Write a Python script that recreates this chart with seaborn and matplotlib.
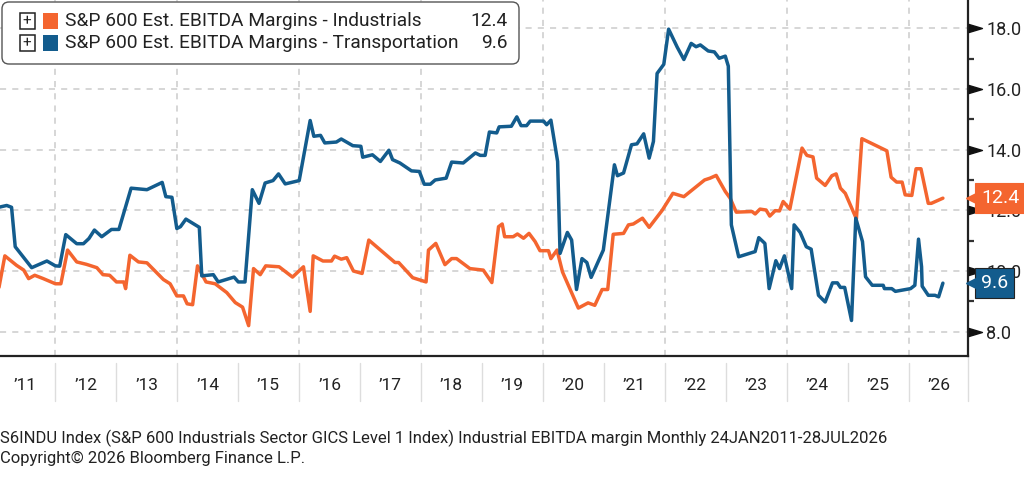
import pandas as pd
import numpy as np
import seaborn as sns
import matplotlib.pyplot as plt
import matplotlib.dates as mdates
import matplotlib.transforms as mtransforms
from matplotlib.patches import FancyBboxPatch, Rectangle

# Series (decimal year, margin %)
ind_t = [2011.07, 2011.17, 2011.36, 2011.48, 2011.56, 2011.66, 2011.80, 2012.00, 2012.09, 2012.20,
         2012.35, 2012.51, 2012.68, 2012.78, 2012.89, 2013.00, 2013.12, 2013.15, 2013.22, 2013.36,
         2013.50, 2013.77, 2013.88, 2013.99, 2014.10, 2014.16, 2014.25, 2014.33, 2014.47, 2014.62,
         2014.81, 2014.95, 2015.07, 2015.17, 2015.25, 2015.36, 2015.45, 2015.67, 2015.89, 2016.07,
         2016.18, 2016.23, 2016.39, 2016.53, 2016.58, 2016.69, 2016.78, 2016.89, 2017.03, 2017.14,
         2017.57, 2017.63, 2017.86, 2018.08, 2018.12, 2018.24, 2018.39, 2018.50, 2018.58, 2018.80,
         2019.02, 2019.16, 2019.27, 2019.33, 2019.37, 2019.51, 2019.58, 2019.68, 2019.77, 2019.87,
         2019.95, 2020.09, 2020.13, 2020.23, 2020.32, 2020.58, 2020.74, 2020.85, 2020.97, 2021.06,
         2021.15, 2021.32, 2021.40, 2021.48, 2021.63, 2021.74, 2021.95, 2022.13, 2022.31, 2022.65,
         2022.74, 2022.84, 2022.99, 2023.07, 2023.17, 2023.43, 2023.48, 2023.56, 2023.66, 2023.72,
         2023.81, 2023.88, 2023.94, 2024.05, 2024.25, 2024.33, 2024.43, 2024.49, 2024.63, 2024.74,
         2024.81, 2024.88, 2024.96, 2025.14, 2025.23, 2025.64, 2025.71, 2025.80, 2025.89, 2025.94,
         2026.05, 2026.12, 2026.20, 2026.32, 2026.37, 2026.56]
ind_v = [9.42, 10.50, 10.19, 10.03, 9.75, 9.86, 9.75, 9.58, 9.58, 10.69,
         10.30, 10.22, 10.11, 9.88, 9.86, 9.64, 9.64, 9.42, 10.52, 10.30,
         10.27, 9.72, 9.58, 9.18, 9.18, 8.92, 8.89, 10.17, 9.64, 9.58,
         9.29, 8.96, 8.81, 8.20, 10.08, 9.88, 10.17, 10.14, 9.80, 10.14,
         8.67, 10.50, 10.33, 10.33, 10.49, 10.39, 10.44, 10.00, 9.92, 11.02,
         10.28, 10.28, 9.78, 9.64, 10.69, 10.91, 10.21, 10.41, 10.41, 10.08,
         10.03, 9.62, 11.46, 11.55, 11.13, 11.13, 11.22, 11.08, 11.24, 10.97,
         10.67, 10.67, 10.41, 10.69, 9.97, 8.78, 8.95, 8.87, 9.39, 9.39,
         11.21, 11.24, 11.52, 11.55, 11.74, 11.44, 11.99, 12.56, 12.45, 13.00,
         13.06, 13.15, 12.62, 12.40, 11.94, 11.96, 11.88, 12.04, 12.01, 11.81,
         11.99, 11.98, 12.29, 12.04, 14.05, 13.81, 13.76, 13.06, 12.82, 13.14,
         13.20, 12.73, 12.56, 11.72, 14.36, 13.96, 13.09, 12.93, 12.93, 12.51,
         12.49, 13.37, 13.37, 12.23, 12.23, 12.40]

trn_t = [2011.07, 2011.20, 2011.28, 2011.34, 2011.61, 2011.86, 2012.00, 2012.07, 2012.17, 2012.35,
         2012.46, 2012.55, 2012.64, 2012.76, 2012.92, 2013.04, 2013.24, 2013.50, 2013.75, 2013.81,
         2013.91, 2013.99, 2014.05, 2014.14, 2014.36, 2014.40, 2014.59, 2014.67, 2014.93, 2015.00,
         2015.11, 2015.23, 2015.34, 2015.44, 2015.57, 2015.66, 2015.77, 2016.00, 2016.18, 2016.24,
         2016.35, 2016.42, 2016.61, 2016.69, 2016.88, 2017.01, 2017.04, 2017.20, 2017.33, 2017.47,
         2017.53, 2017.65, 2017.84, 2017.97, 2018.05, 2018.15, 2018.23, 2018.41, 2018.50, 2018.69,
         2018.89, 2018.97, 2019.05, 2019.12, 2019.24, 2019.28, 2019.48, 2019.57, 2019.64, 2019.73,
         2019.79, 2020.01, 2020.06, 2020.13, 2020.24, 2020.28, 2020.40, 2020.47, 2020.55, 2020.64,
         2020.72, 2020.79, 2020.99, 2021.17, 2021.22, 2021.32, 2021.45, 2021.54, 2021.65, 2021.74,
         2021.81, 2021.87, 2021.98, 2022.06, 2022.20, 2022.31, 2022.43, 2022.51, 2022.58, 2022.71,
         2022.81, 2022.89, 2022.99, 2023.04, 2023.09, 2023.21, 2023.48, 2023.54, 2023.64, 2023.71,
         2023.82, 2023.88, 2023.96, 2024.08, 2024.12, 2024.22, 2024.32, 2024.40, 2024.52, 2024.63,
         2024.75, 2024.83, 2024.88, 2024.95, 2025.06, 2025.13, 2025.24, 2025.29, 2025.40, 2025.58,
         2025.60, 2025.72, 2025.78, 2026.03, 2026.10, 2026.16, 2026.21, 2026.22, 2026.32, 2026.43,
         2026.49, 2026.56]
trn_v = [12.10, 12.16, 12.10, 10.80, 10.11, 10.33, 10.17, 10.16, 11.20, 10.90,
         10.90, 11.07, 11.35, 11.13, 11.37, 11.37, 12.73, 12.68, 12.92, 12.45,
         12.43, 11.40, 11.46, 11.71, 11.44, 9.84, 9.88, 9.64, 9.80, 9.64,
         9.64, 12.68, 12.23, 12.90, 12.98, 13.20, 12.87, 12.98, 14.96, 14.44,
         14.47, 14.22, 14.25, 14.35, 14.13, 14.11, 13.75, 13.83, 13.61, 13.98,
         13.67, 13.56, 13.30, 13.28, 12.86, 12.86, 13.00, 13.06, 13.59, 13.56,
         13.89, 13.81, 13.81, 14.58, 14.55, 14.75, 14.77, 15.08, 14.79, 14.79,
         14.94, 14.94, 14.82, 14.97, 13.61, 10.58, 11.27, 11.02, 9.39, 10.41,
         10.28, 9.79, 10.69, 13.50, 13.14, 13.23, 14.16, 14.19, 14.52, 13.72,
         14.27, 16.51, 16.81, 17.97, 17.38, 16.97, 17.50, 17.39, 17.45, 17.25,
         17.22, 17.01, 17.08, 16.75, 11.52, 10.47, 10.64, 11.10, 10.91, 9.42,
         10.34, 10.08, 10.50, 9.42, 11.52, 11.27, 10.80, 10.72, 9.20, 8.98,
         9.61, 9.61, 9.46, 9.46, 8.37, 11.74, 10.97, 9.81, 9.53, 9.53,
         9.42, 9.42, 9.33, 9.42, 9.53, 11.05, 10.14, 9.50, 9.20, 9.20,
         9.15, 9.60]

series_names = ["S&P 600 Est. EBITDA Margins - Industrials",
                "S&P 600 Est. EBITDA Margins - Transportation"]
last_values = ["12.4", "9.6"]
years = list(range(2011, 2027))
y_ticks = [8, 10, 12, 14, 16, 18]

ORANGE = "#F4652F"
BLUE = "#135C8D"


def to_date(t):
    y = int(t)
    return pd.Timestamp(f"{y}-01-01") + pd.Timedelta(days=(t - y) * 365.25)


df = pd.concat([
    pd.DataFrame({"date": [to_date(t) for t in ind_t], "value": ind_v, "series": series_names[0]}),
    pd.DataFrame({"date": [to_date(t) for t in trn_t], "value": trn_v, "series": series_names[1]}),
])

sns.set_style("white")
plt.rcParams["font.family"] = ["Roboto", "DejaVu Sans"]

fig = plt.figure(figsize=(10.24, 4.84), dpi=100)
ax = fig.add_axes([0, 1 - 356 / 484, 968 / 1024, 356 / 484])

sns.lineplot(data=df, x="date", y="value", hue="series", estimator=None, sort=False,
             palette=[ORANGE, BLUE], linewidth=2.5, legend=False, ax=ax, zorder=3)

ax.set_xlim(pd.Timestamp("2011-02-03"), pd.Timestamp("2026-12-22"))
ax.set_ylim(7.2, 18.93)
ax.set_xlabel("")
ax.set_ylabel("")

# spines
for s in ["left", "top"]:
    ax.spines[s].set_visible(False)
for s in ["right", "bottom"]:
    ax.spines[s].set_color("#222222")
    ax.spines[s].set_linewidth(1.6)

# x ticks: grid every two years, tick every year
ax.xaxis.set_major_locator(mdates.YearLocator(2))
ax.xaxis.set_minor_locator(mdates.YearLocator(1))
ax.tick_params(axis="x", which="both", direction="out", length=5, width=1.2,
               color="#222222", labelbottom=False)
ax.grid(axis="x", which="major", color="#cccccc", linestyle=(0, (4, 4)), linewidth=1.1)

# y ticks on the right
ax.yaxis.tick_right()
ax.set_yticks(y_ticks)
ax.set_yticks([9, 11, 13, 15, 17], minor=True)
ax.yaxis.set_major_formatter(plt.FuncFormatter(lambda v, p: f"{v:.1f}"))
ax.tick_params(axis="y", which="major", length=0, pad=13, labelsize=13, labelcolor="#222222")
ax.tick_params(axis="y", which="minor", length=4, width=1.6, color="#333333", direction="out")
ax.grid(axis="y", which="major", color="#cccccc", linestyle=(0, (4, 4)), linewidth=1.1)

blend_y = mtransforms.blended_transform_factory(ax.transAxes, ax.transData)
blend_x = mtransforms.blended_transform_factory(ax.transData, ax.transAxes)

# triangle markers on major ticks
tri = [(-1, -0.6), (1, 0), (-1, 0.6)]
ax.plot([1 + 7 / 968] * len(y_ticks), y_ticks, ls="none", marker=tri, markersize=10,
        color="#111111", transform=blend_y, clip_on=False, zorder=4)

# year labels band
for yr in years:
    ax.text(pd.Timestamp(f"{yr}-07-01"), -0.082, f"\u2019{str(yr)[2:]}", transform=blend_x,
            ha="center", va="center", fontsize=12.5, color="#222222",
            family=["Liberation Sans Narrow", "Roboto"])
for yr in years[1:]:
    ax.plot([pd.Timestamp(f"{yr}-01-01")] * 2, [-0.02, -0.125], color="#dddddd", lw=1,
            transform=blend_x, clip_on=False)
ax.plot([1, 1], [0, -0.125], color="#dddddd", lw=1, transform=ax.transAxes, clip_on=False)

# last value tags
for val, col, ec in [(last_values[0], ORANGE, ORANGE), (last_values[1], BLUE, "#222222")]:
    ax.text(1 + 13 / 968, float(val), val, transform=blend_y, ha="left", va="center",
            color="white", fontsize=14, clip_on=False, zorder=10,
            bbox=dict(boxstyle="square,pad=0.3", fc=col, ec=ec, lw=0.8))
    ax.plot([1 + 5 / 968], [float(val)], ls="none", marker="<", markersize=10, color=col,
            transform=blend_y, clip_on=False, zorder=11)

# legend box
inch = fig.dpi_scale_trans
H = 4.84
box = FancyBboxPatch((0.02, H - 0.64), 5.17, 0.62, boxstyle="round,pad=0,rounding_size=0.07",
                     transform=inch, fc="white", ec="#555555", lw=1.0, zorder=20)
fig.add_artist(box)
for i, (name, col, val) in enumerate(zip(series_names, [ORANGE, BLUE], last_values)):
    yc = H - (0.21 + 0.22 * i)
    fig.add_artist(Rectangle((0.195, yc - 0.075), 0.15, 0.15, transform=inch, fc="white",
                             ec="#222222", lw=1.1, zorder=21))
    fig.text(0.27, yc, "+", transform=inch, ha="center", va="center", fontsize=11,
             color="#222222", zorder=22)
    fig.add_artist(Rectangle((0.43, yc - 0.075), 0.15, 0.15, transform=inch, fc=col,
                             ec="none", zorder=21))
    fig.text(0.65, yc, name, transform=inch, ha="left", va="center", fontsize=13.8,
             color="#222222", zorder=22)
    fig.text(5.08, yc, val, transform=inch, ha="right", va="center", fontsize=13.8,
             color="#222222", zorder=22)

# footer
fig.text(0.0, 1 - 438 / 484, "S6INDU Index (S&P 600 Industrials Sector GICS Level 1 Index) "
         "Industrial EBITDA margin Monthly 24JAN2011-28JUL2026", ha="left", va="center",
         fontsize=12, color="#222222", family=["Liberation Sans Narrow", "Roboto"])
fig.text(0.0, 1 - 458 / 484, "Copyright\u00a9 2026 Bloomberg Finance L.P.", ha="left",
         va="center", fontsize=12, color="#222222", family=["Liberation Sans Narrow", "Roboto"])

fig.savefig("out.png", dpi=100)
